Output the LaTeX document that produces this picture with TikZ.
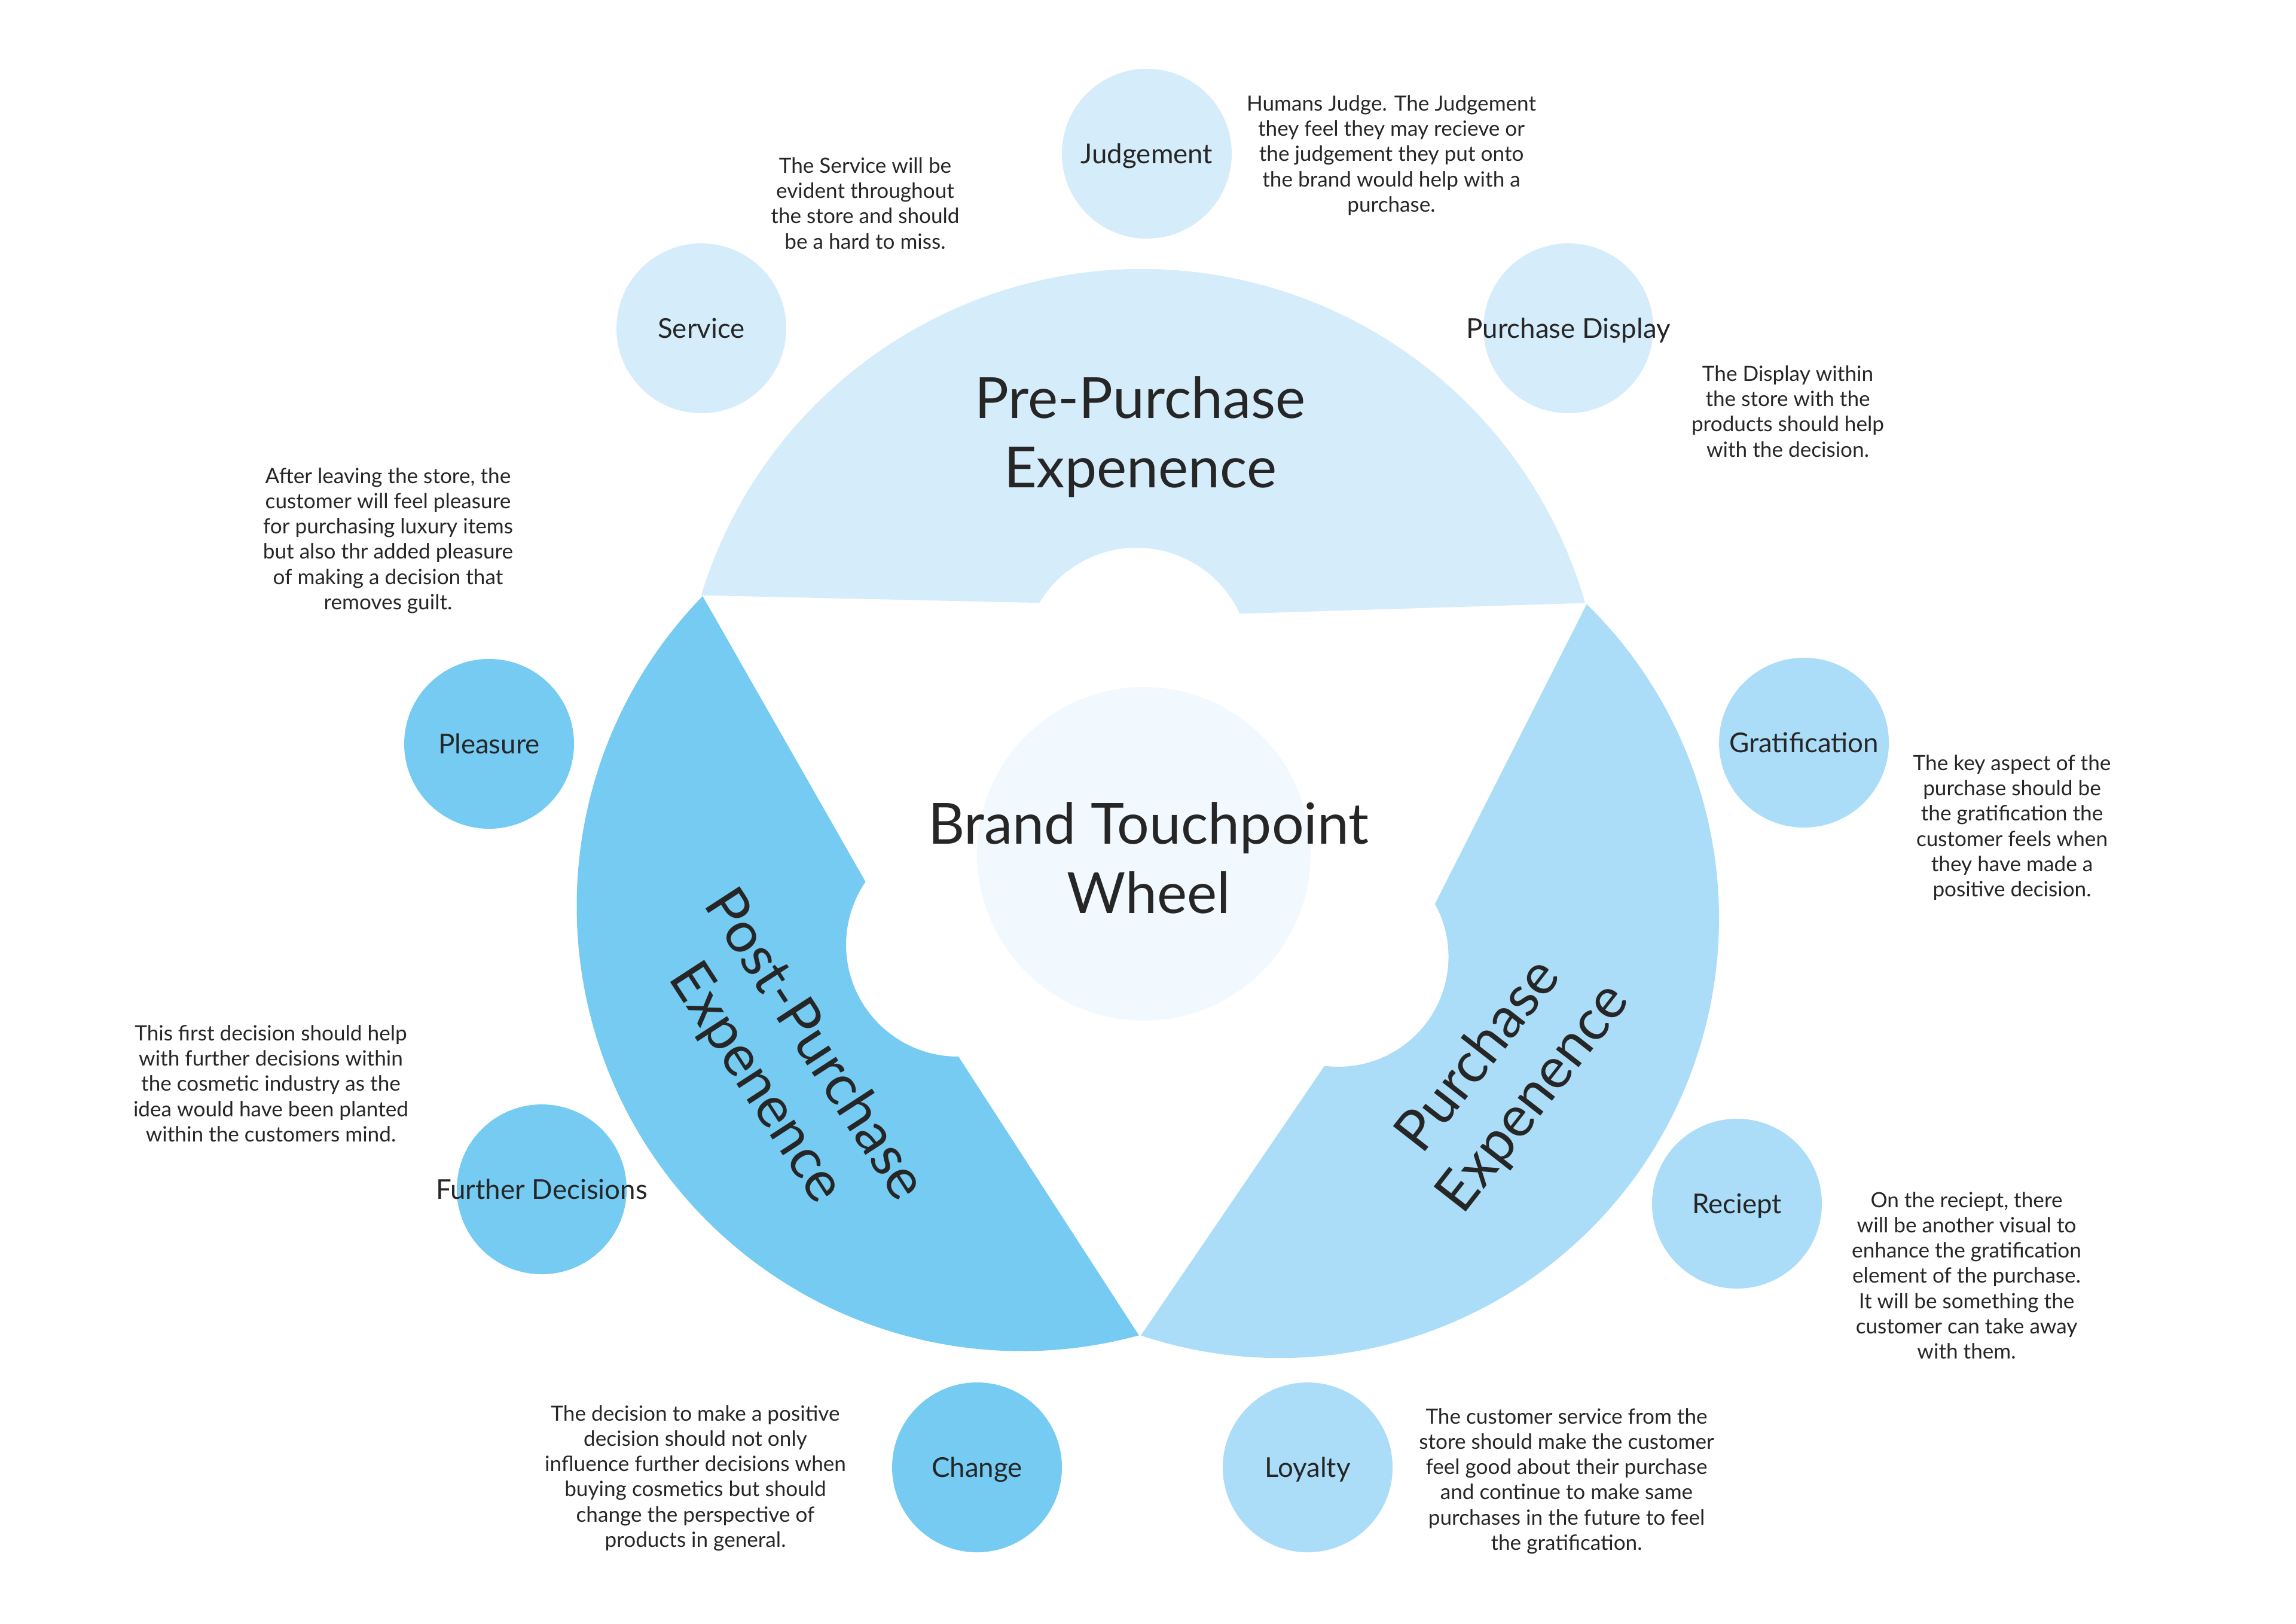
\documentclass[tikz,border=0pt]{standalone}
\usepackage{fontspec}
\setmainfont{Lato}
\usepackage{tikz}
\usetikzlibrary{calc}
\usepackage{tkz-euclide}

\definecolor{prelight}{HTML}{D5ECFB}
\definecolor{purchmid}{HTML}{ABDDF8}
\definecolor{postdark}{HTML}{75CBF2}
\definecolor{hubpale}{HTML}{F2F9FE}
\definecolor{inktext}{HTML}{262626}

\tikzset{
  bubble/.style={circle, minimum size=2.84cm, inner sep=0pt},
  note/.style={align=center, text=inktext, font=\fontsize{10}{12}\selectfont},
  phase/.style={align=center, text=inktext, font=\fontsize{27}{33}\selectfont},
  every label/.style={text=inktext, text depth=0pt, font=\fontsize{13}{15}\selectfont}
}

\begin{document}
\begin{tikzpicture}
                \useasboundingbox (0,0) rectangle (38.40,-27.15);
                \fill[white] (0,0) rectangle (38.40,-27.15);
                \tkzDefPoint(19.10,-12.21){Cpre}
                \tkzDefPoint(19.01,-11.06){Npre}
                \tkzDefPoint(17.085,-15.156){Cpost}
                \tkzDefPoint(16.02,-15.80){Npost}
                \tkzDefPoint(21.40,-15.36){Cbuy}
                \tkzDefPoint(22.385,-16.00){Nbuy}
                \fill[prelight] ($(Cpre)+(163:7.71)$) arc[start angle=163, end angle=16, radius=7.71]
                    -- ($(Npre)+(24.8:1.9)$) arc[start angle=24.8, end angle=149, radius=1.9] -- cycle;
                \fill[postdark] ($(Cpost)+(135.8:7.44)$) arc[start angle=135.8, end angle=285.3, radius=7.44]
                    -- ($(Npost)+(270.3:1.87)$) arc[start angle=270.3, end angle=145.7, radius=1.87] -- cycle;
                \fill[purchmid] ($(Cbuy)+(-108.4:7.35)$) arc[start angle=-108.4, end angle=45.66, radius=7.35]
                    -- ($(Nbuy)+(28.7:1.84)$) arc[start angle=28.7, end angle=-97.3, radius=1.84] -- cycle;
                \node[circle, fill=hubpale, minimum size=5.58cm] (hub) at (19.13,-14.28) {};
                \node[phase] (hubtitle) at (19.21,-14.35) {Brand Touchpoint\\Wheel};
                \node[phase] (pretitle) at (19.07,-7.31) {Pre-Purchase\\Expenence};
                \node[phase, rotate=-57] (posttitle) at (13.12,-17.80) {Post-Purchase\\Expenence};
                \node[phase, rotate=52] (buytitle) at (25.20,-18.02) {Purchase\\Expenence};
                \node[bubble, fill=prelight, label=center:Judgement] (judgement) at (19.18,-2.57) {};
                \node[bubble, fill=prelight, label=center:Service] (service) at (11.73,-5.49) {};
                \node[bubble, fill=prelight, label=center:Purchase Display] (display) at (26.23,-5.49) {};
                \node[bubble, fill=postdark, label=center:Pleasure] (pleasure) at (8.18,-12.44) {};
                \node[bubble, fill=postdark, label=center:Further Decisions] (further) at (9.06,-19.89) {};
                \node[bubble, fill=postdark, label=center:Change] (change) at (16.34,-24.54) {};
                \node[bubble, fill=purchmid, label=center:Gratification] (gratification) at (30.17,-12.42) {};
                \node[bubble, fill=purchmid, label=center:Reciept] (reciept) at (29.05,-20.13) {};
                \node[bubble, fill=purchmid, label=center:Loyalty] (loyalty) at (21.87,-24.54) {};
                \node[note] (servicenote) at (14.47,-3.40) {The Service will be\\evident throughout\\the store and should\\be a hard to miss.};
                \node[note] (judgenote) at (23.27,-2.60) {Humans Judge. The Judgement\\they feel they may recieve or\\the judgement they put onto\\the brand would help with a\\purchase.};
                \node[note] (displaynote) at (29.90,-6.88) {The Display within\\the store with the\\products should help\\with the decision.};
                \node[note] (pleasurenote) at (6.49,-9.04) {After leaving the store, the\\customer will feel pleasure\\for purchasing luxury items\\but also thr added pleasure\\of making a decision that\\removes guilt.};
                \node[note] (gratnote) at (33.65,-13.84) {The key aspect of the\\purchase should be\\the gratification the\\customer feels when\\they have made a\\positive decision.};
                \node[note] (furthernote) at (4.53,-18.12) {This first decision should help\\with further decisions within\\the cosmetic industry as the\\idea would have been planted\\within the customers mind.};
                \node[note] (recieptnote) at (32.89,-21.33) {On the reciept, there\\will be another visual to\\enhance the gratification\\element of the purchase.\\It will be something the\\customer can take away\\with them.};
                \node[note] (changenote) at (11.63,-24.72) {The decision to make a positive\\decision should not only\\influence further decisions when\\buying cosmetics but should\\change the perspective of\\products in general.};
                \node[note] (loyaltynote) at (26.20,-24.77) {The customer service from the\\store should make the customer\\feel good about their purchase\\and continue to make same\\purchases in the future to feel\\the gratification.};
            \end{tikzpicture}
\end{document}
